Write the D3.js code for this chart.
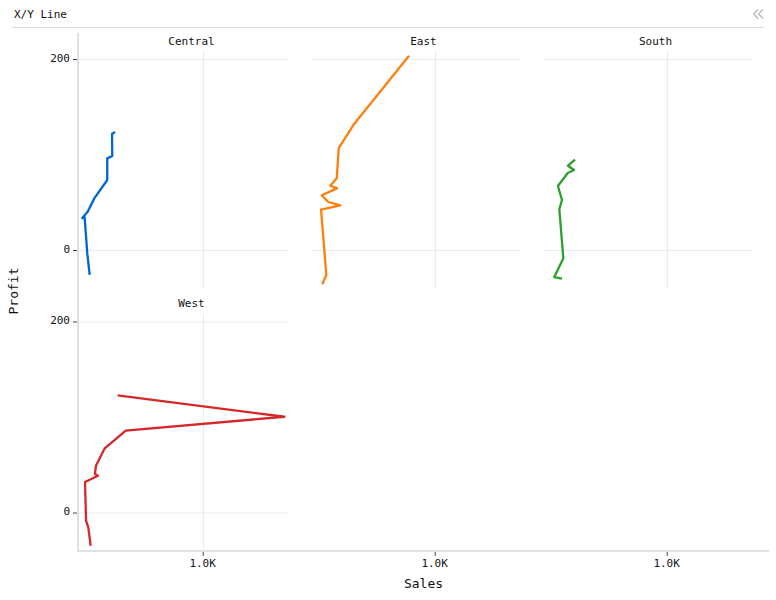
<!DOCTYPE html>
<html><head><meta charset="utf-8">
<script src="https://cdn.jsdelivr.net/npm/d3@7/dist/d3.min.js"></script>
<style>
html,body{margin:0;padding:0;background:#fff}
svg{display:block}
text{font-family:"DejaVu Sans Mono",monospace;fill:#111}
</style></head><body>
<svg id="c" width="776" height="600"></svg>
<script>
const regions = ["Central","East","South","West"];
const colors = ["#0066d6","#ff7f0e","#2ca02c","#d62728"];
const centralSales  = [295,271,273,233,233,130,77,34,53,74,93];
const centralProfit = [123.6,121.5,98.4,96,73.3,54.1,40.1,33.5,34.2,-3.5,-25.9];
const eastSales  = [789,345,229,213,162,215,93,146,241,88,112,130,98];
const eastProfit = [203.5,130.9,106.8,75.1,67.3,64.6,57.3,50.3,46.8,42.2,3.5,-26.2,-35.9];
const southSales  = [263,207,255,205,127,159,138,170,98,159];
const southProfit = [94.6,88.3,83.8,80.6,67,52.4,42.6,-8.7,-28.3,-30];
const westSales  = [316,1644,380,213,143,135,159,56,64,82,101];
const westProfit = [122.7,100.3,85.7,67.2,49,40.3,38.5,31.9,-8.6,-15.5,-34.8];
const xTicks = [1000];
const yTicks = [0,200];
const sales = [centralSales,eastSales,southSales,westSales];
const profit = [centralProfit,eastProfit,southProfit,westProfit];

const svg = d3.select("#c");
const gridC = "#ebebef", axisC = "#e0e0e6", tickC = "#444";
const panelW = 210, panelH = 238;
const px = i => 78 + (i%3)*232;
const py = i => 51 + Math.floor(i/3)*262.5;
const x = d3.scaleLinear().domain([0,1673]).range([0,panelW]);
const y = d3.scaleLinear().domain([-40.8,208.4]).range([panelH,0]);
const fmtX = d => (d/1000).toFixed(1)+"K";

svg.append("text").attr("x",14).attr("y",18).attr("font-size",11).text("X/Y Line");
svg.append("line").attr("x1",12).attr("x2",764).attr("y1",27.5).attr("y2",27.5).attr("stroke","#ddd");
svg.append("path").attr("d","M758 9.5l-4.5 4.5 4.5 4.5M763 9.5l-4.5 4.5 4.5 4.5").attr("fill","none").attr("stroke","#b4b4b4").attr("stroke-width",1.1);

regions.forEach((r,i)=>{
  const g = svg.append("g").attr("transform",`translate(${px(i)},${py(i)})`);
  g.append("g").selectAll("line").data(yTicks).join("line")
    .attr("x1",i%3?1:0).attr("x2",panelW).attr("y1",d=>Math.floor(y(d))+.5).attr("y2",d=>Math.floor(y(d))+.5)
    .attr("stroke",gridC);
  g.append("g").selectAll("line").data(xTicks).join("line")
    .attr("x1",d=>x(d)).attr("x2",d=>x(d)).attr("y1",0).attr("y2",panelH)
    .attr("stroke",gridC);
  g.append("text").attr("x",113.5).attr("y",i>2?-6.5:-6).attr("text-anchor","middle").attr("font-size",11).text(r);
  const pts = sales[i].map((s,k)=>[s,profit[i][k]]);
  g.append("path").datum(pts)
    .attr("d",d3.line().x(d=>x(d[0])).y(d=>y(d[1])))
    .attr("fill","none").attr("stroke",colors[i]).attr("stroke-width",2.3).attr("stroke-linejoin","round");
});

[0,3].forEach(i=>{
  const a = svg.append("g").attr("transform",`translate(78,${py(i)})`)
    .call(d3.axisLeft(y).tickValues(yTicks).tickSize(5).tickPadding(3));
  a.select(".domain").remove();
  a.selectAll(".tick line").attr("stroke",tickC);
  a.selectAll("text").attr("font-size",11).attr("dy","0.22em").style("font-family",'"DejaVu Sans Mono",monospace').style("fill","#111");
});
[0,1,2].forEach(c=>{
  const a = svg.append("g").attr("transform",`translate(${77.2+c*232},551)`)
    .call(d3.axisBottom(x).tickValues(xTicks).tickFormat(fmtX).tickSize(5).tickPadding(3));
  a.select(".domain").remove();
  a.selectAll(".tick line").attr("stroke",tickC);
  a.selectAll("text").attr("font-size",11).attr("dx","-0.6").style("font-family",'"DejaVu Sans Mono",monospace').style("fill","#111");
});
svg.append("line").attr("x1",78).attr("x2",78).attr("y1",33).attr("y2",552).attr("stroke",axisC).attr("stroke-width",2);
svg.append("line").attr("x1",77).attr("x2",769).attr("y1",551).attr("y2",551).attr("stroke",axisC).attr("stroke-width",2);

svg.append("text").attr("x",423.5).attr("y",588).attr("text-anchor","middle").attr("font-size",13).text("Sales");
svg.append("text").attr("transform","translate(17.5,291) rotate(-90)").attr("text-anchor","middle").attr("font-size",13).text("Profit");
</script>
</body></html>
